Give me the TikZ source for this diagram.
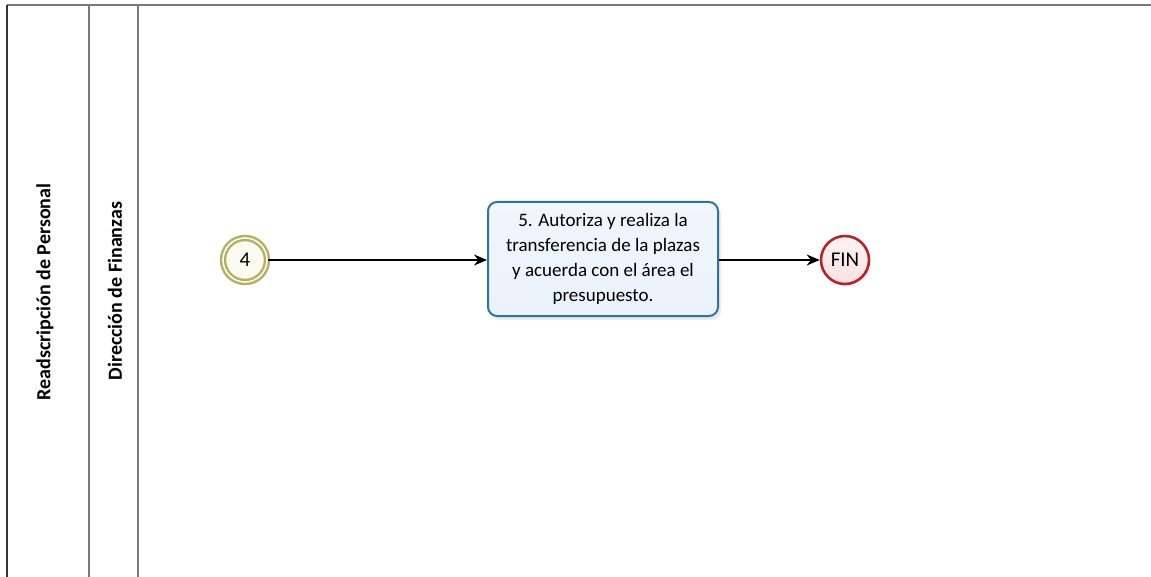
\documentclass[tikz,border=0pt]{standalone}
\usepackage{fontspec}
\setmainfont{Carlito}
\usetikzlibrary{arrows.meta,shadows}
\definecolor{poolline}{HTML}{333333}
\definecolor{laneline}{HTML}{7A7A7A}
\definecolor{startring}{HTML}{B3B063}
\definecolor{startfill}{HTML}{FBFBF2}
\definecolor{taskline}{HTML}{2F73A0}
\definecolor{taskfill}{HTML}{EAF2FB}
\definecolor{endline}{HTML}{B0262B}
\definecolor{endfill}{HTML}{F9E1E1}
\tikzset{
  lanetitle/.style={rotate=90, font=\bfseries\fontsize{20}{22}\selectfont, inner sep=0pt},
  startev/.style={circle, draw=startring, line width=2.4pt, fill=startfill,
    minimum size=44pt, inner sep=0pt, double=startfill, double distance=1.6pt,
    drop shadow={opacity=0.12, shadow xshift=2pt, shadow yshift=-3pt},
    font=\fontsize{21}{23}\selectfont},
  taskbox/.style={rectangle, rounded corners=9pt, draw=taskline, line width=2pt,
    top color=taskfill!70!white, bottom color=taskfill, minimum width=230pt,
    minimum height=114pt, align=center, inner sep=4pt,
    drop shadow={opacity=0.15, shadow xshift=3pt, shadow yshift=-4pt},
    font=\fontsize{19}{25}\selectfont},
  endev/.style={circle, draw=endline, line width=2.6pt,
    top color=endfill!40!white, bottom color=endfill,
    minimum size=48pt, inner sep=0pt,
    drop shadow={opacity=0.12, shadow xshift=2pt, shadow yshift=-3pt},
    font=\fontsize{21}{23}\selectfont},
  flow/.style={draw=black, line width=1.5pt, -{Stealth[length=13pt,width=11pt]}},
}
\begin{document}
\begin{tikzpicture}[x=1pt, y=-1pt]
  \useasboundingbox (0,0) rectangle (1151,577);
  \fill[white] (0,0) rectangle (1151,577);

  % pool and lane outlines
  \draw[laneline, line width=1.6pt] (7,5) -- (1151,5);
  \draw[laneline, line width=1.4pt] (89,5) -- (89,577);
  \draw[laneline, line width=1.4pt] (138,5) -- (138,577);
  \draw[poolline, line width=1.6pt] (7,5) -- (7,577);

  % pool and lane titles
  \node[lanetitle] (pooltitle) at (45,292) {Readscripción de Personal};
  \node[lanetitle] (lanetitle) at (115,291) {Dirección de Finanzas};

  % flow elements
  \node[startev] (start) at (245,260) {4};
  \node[taskbox] (task) at (603,259) {5. Autoriza y realiza la\\transferencia de la plazas\\y acuerda con el área el\\presupuesto.};
  \node[endev] (fin) at (845,260) {FIN};

  % sequence flows
  \draw[flow] (start) -- (task.west |- start);
  \draw[flow] (task.east |- fin) -- (fin);
\end{tikzpicture}
\end{document}
